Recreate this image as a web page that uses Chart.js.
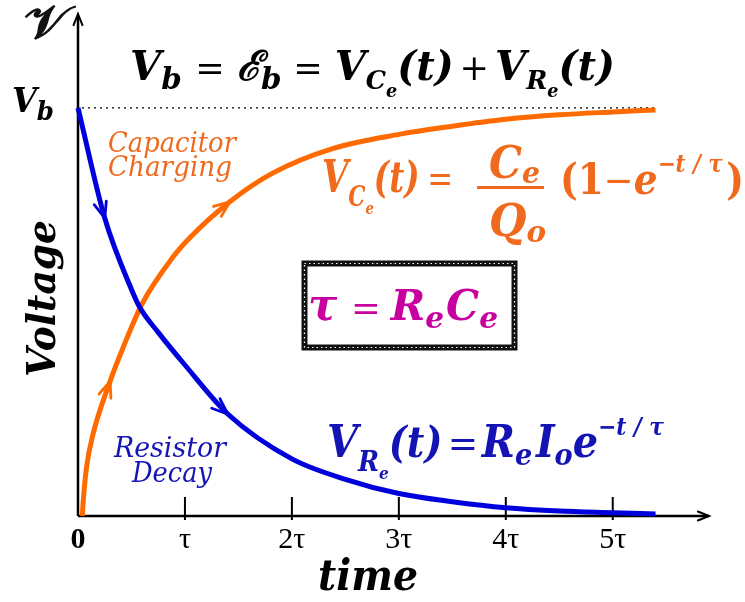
<!DOCTYPE html>
<html>
<head>
<meta charset="utf-8">
<script src="https://cdn.jsdelivr.net/npm/chart.js@4/dist/chart.umd.min.js"></script>
<style>
  html, body { margin: 0; padding: 0; background: #fff; }
  #wrap { width: 745px; height: 602px; }
</style>
</head>
<body>
<div id="wrap"><canvas id="c" width="745" height="602"></canvas></div>
<script>
// Capacitor charging: time in units of tau, voltage as a fraction of Vb
const chargeTime = [0.04, 0.05, 0.08, 0.14, 0.30, 0.41, 0.60, 0.89, 1.05, 1.42, 1.82, 2.38, 3.0, 3.5, 4.0, 4.5, 5.0, 5.4];
const chargeVolt = [0, 0.04, 0.12, 0.20, 0.33, 0.405, 0.52, 0.635, 0.683, 0.77, 0.84, 0.90, 0.935, 0.955, 0.972, 0.983, 0.99, 0.995];
// Resistor decay
const decayTime = [0, 0.25, 0.5, 0.58, 0.75, 1.0, 1.4, 2.0, 2.5, 3.0, 3.5, 4.0, 4.5, 5.0, 5.4];
const decayVolt = [1.0, 0.73, 0.555, 0.51, 0.45, 0.37, 0.25, 0.14, 0.09, 0.055, 0.035, 0.02, 0.012, 0.008, 0.005];
// Time axis ticks
const tickValues = [0, 1, 2, 3, 4, 5];
const tickLabels = ['0', 'τ', '2τ', '3τ', '4τ', '5τ'];
// Supply level
const supplyLevel = 1.0;

const BLUE = '#0000dc';
const BLUE_TXT = '#1414b4';
const ORANGE = '#ff6a00';
const ORANGE_TXT = '#f06a1e';
const MAGENTA = '#c800a0';
const SERIF = '"DejaVu Serif", "Liberation Serif", serif';

function fnt(style, size) {
  const map = { bi: 'italic bold', i: 'italic', b: 'bold', r: 'normal' };
  return `${map[style || 'bi']} ${size}px ${SERIF}`;
}

// Draws a row of text pieces (with sub/superscripts); squeezed to span x0..x1 if x1 given
function rich(ctx, parts, x0, x1, base, color) {
  let w = 0;
  parts.forEach(p => {
    if (p.g != null) { w += p.g; return; }
    ctx.font = fnt(p.f, p.s);
    p.w = ctx.measureText(p.t).width;
    w += p.w;
  });
  const k = x1 != null ? (x1 - x0) / w : 1;
  ctx.save();
  ctx.translate(x0, base);
  ctx.scale(k, 1);
  ctx.fillStyle = color;
  ctx.textAlign = 'left';
  ctx.textBaseline = 'alphabetic';
  let x = 0;
  parts.forEach(p => {
    if (p.g != null) { x += p.g; return; }
    ctx.font = fnt(p.f, p.s);
    ctx.fillText(p.t, x, p.dy || 0);
    x += p.w;
  });
  ctx.restore();
}

function arrowHead(ctx, x, y, ang, len, color, width) {
  ctx.save();
  ctx.strokeStyle = color;
  ctx.lineWidth = width;
  ctx.lineCap = 'round';
  ctx.beginPath();
  ctx.moveTo(x - len * Math.cos(ang - 0.38), y - len * Math.sin(ang - 0.38));
  ctx.lineTo(x, y);
  ctx.lineTo(x - len * Math.cos(ang + 0.38), y - len * Math.sin(ang + 0.38));
  ctx.stroke();
  ctx.restore();
}

// Arrow marks placed on the curves, at a data index
function curveArrow(chart, dsIndex, idx, color) {
  const xs = chart.scales.x, ys = chart.scales.y;
  const d = chart.data.datasets[dsIndex].data;
  const px = xs.getPixelForValue(d[idx].x), py = ys.getPixelForValue(d[idx].y);
  const ax = xs.getPixelForValue(d[idx - 1].x), ay = ys.getPixelForValue(d[idx - 1].y);
  const bx = xs.getPixelForValue(d[idx + 1].x), by = ys.getPixelForValue(d[idx + 1].y);
  const ang = Math.atan2(by - ay, bx - ax);
  arrowHead(chart.ctx, px, py, ang, 17, color, 2.8);
}

const decor = {
  id: 'decor',
  beforeDatasetsDraw(chart) {
    const { ctx, chartArea: a, scales: { x, y } } = chart;
    const x0 = x.getPixelForValue(0), y0 = y.getPixelForValue(0);
    ctx.save();
    ctx.strokeStyle = '#000';
    ctx.lineWidth = 2.5;
    // axes
    ctx.beginPath();
    ctx.moveTo(x0, y0); ctx.lineTo(x0, a.top + 2);
    ctx.moveTo(x0, y0); ctx.lineTo(a.right, y0);
    ctx.stroke();
    arrowHead(ctx, x0, a.top, -Math.PI / 2, 12, '#000', 2);
    arrowHead(ctx, a.right, y0, 0, 12, '#000', 2);
    // tick marks
    ctx.lineWidth = 2;
    tickValues.slice(1).forEach(v => {
      const px = x.getPixelForValue(v);
      ctx.beginPath(); ctx.moveTo(px, y0 - 19); ctx.lineTo(px, y0 + 4); ctx.stroke();
    });
    // supply level
    const ys = y.getPixelForValue(supplyLevel);
    ctx.lineWidth = 1.3;
    ctx.setLineDash([2, 4]);
    ctx.beginPath(); ctx.moveTo(x0 + 4, ys); ctx.lineTo(x.getPixelForValue(5.4), ys); ctx.stroke();
    ctx.restore();
  },
  afterDatasetsDraw(chart) {
    const ctx = chart.ctx;
    curveArrow(chart, 0, 1, BLUE);
    curveArrow(chart, 0, 6, BLUE);
    curveArrow(chart, 1, 4, ORANGE);
    curveArrow(chart, 1, 9, ORANGE);

    // axis names and corner symbols
    rich(ctx, [{ t: '𝒱', s: 46, f: 'b' }], 24, 68, 38, '#111');
    rich(ctx, [{ t: 'V', s: 34 }, { t: 'b', s: 26, dy: 8 }], 12, 54, 112, '#000');
    rich(ctx, [{ t: 'time', s: 42 }], 318, 418, 590, '#000');
    ctx.save();
    ctx.translate(55, 377);
    ctx.rotate(-Math.PI / 2);
    rich(ctx, [{ t: 'Voltage', s: 40 }], 0, 157, 0, '#000');
    ctx.restore();

    // top relation
    rich(ctx, [
      { t: 'V', s: 41 }, { t: 'b', s: 30, dy: 9 }, { g: 14 }, { t: '=', s: 36, f: 'r' }, { g: 12 },
      { t: 'ℰ', s: 41 }, { t: 'b', s: 30, dy: 9 }, { g: 12 }, { t: '=', s: 36, f: 'r' }, { g: 12 },
      { t: 'V', s: 41 }, { t: 'C', s: 26, dy: 9 }, { t: 'e', s: 18, dy: 17 }, { t: '(t)', s: 41 }, { g: 6 },
      { t: '+', s: 36, f: 'r' }, { g: 6 },
      { t: 'V', s: 41 }, { t: 'R', s: 26, dy: 9 }, { t: 'e', s: 18, dy: 17 }, { t: '(t)', s: 41 }
    ], 130, 615, 80, '#000');

    // curve captions
    rich(ctx, [{ t: 'Capacitor', s: 27, f: 'i' }], 108, 236, 152, ORANGE_TXT);
    rich(ctx, [{ t: 'Charging', s: 27, f: 'i' }], 108, 232, 176, ORANGE_TXT);
    rich(ctx, [{ t: 'Resistor', s: 27, f: 'i' }], 114, 226, 457, BLUE_TXT);
    rich(ctx, [{ t: 'Decay', s: 27, f: 'i' }], 132, 212, 482, BLUE_TXT);

    // capacitor voltage
    rich(ctx, [
      { t: 'V', s: 44 }, { t: 'C', s: 28, dy: 14 }, { t: 'e', s: 17, dy: 22 }, { t: '(t)', s: 42 }, { g: 10 },
      { t: '=', s: 40, f: 'r' }
    ], 322, 453, 192, ORANGE_TXT);
    rich(ctx, [{ t: 'C', s: 44 }, { t: 'e', s: 30, dy: 5 }], 489, 540, 178, ORANGE_TXT);
    ctx.save();
    ctx.fillStyle = ORANGE_TXT;
    ctx.fillRect(477, 186, 67, 3);
    ctx.restore();
    rich(ctx, [{ t: 'Q', s: 44 }, { t: 'o', s: 30, dy: 6 }], 489, 546, 236, ORANGE_TXT);
    rich(ctx, [
      { t: '(1', s: 42, f: 'b' }, { t: '−', s: 40, f: 'r' }, { t: 'e', s: 42 },
      { t: '−t / τ', s: 24, dy: -22 }, { g: 4 }, { t: ')', s: 42, f: 'b' }
    ], 560, 744, 194, ORANGE_TXT);

    // time-constant box
    ctx.save();
    ctx.strokeStyle = '#111';
    ctx.lineWidth = 6;
    ctx.strokeRect(304.5, 263.5, 210, 84);
    ctx.strokeStyle = '#fff';
    ctx.lineWidth = 1.2;
    ctx.setLineDash([1.5, 3]);
    ctx.strokeRect(304.5, 263.5, 210, 84);
    ctx.restore();
    rich(ctx, [
      { t: 'τ', s: 44 }, { g: 14 }, { t: '=', s: 36, f: 'r' }, { g: 10 },
      { t: 'R', s: 42 }, { t: 'e', s: 30, dy: 8 }, { g: 2 }, { t: 'C', s: 42 }, { t: 'e', s: 30, dy: 8 }
    ], 308, 498, 320, MAGENTA);

    // resistor voltage
    rich(ctx, [
      { t: 'V', s: 44 }, { t: 'R', s: 28, dy: 14 }, { t: 'e', s: 17, dy: 22 }, { t: '(t)', s: 42 }, { g: 6 },
      { t: '=', s: 40, f: 'r' }, { g: 4 },
      { t: 'R', s: 44 }, { t: 'e', s: 30, dy: 8 }, { g: 4 }, { t: 'I', s: 44 }, { t: 'o', s: 30, dy: 8 },
      { t: 'e', s: 44 }, { t: '−t / τ', s: 24, dy: -22 }
    ], 327, 664, 457, BLUE_TXT);
  }
};

new Chart(document.getElementById('c'), {
  type: 'line',
  data: {
    datasets: [
      {
        label: 'Resistor Decay',
        data: decayTime.map((t, i) => ({ x: t, y: decayVolt[i] })),
        borderColor: BLUE, borderWidth: 5, pointRadius: 0,
        cubicInterpolationMode: 'monotone', clip: false
      },
      {
        label: 'Capacitor Charging',
        data: chargeTime.map((t, i) => ({ x: t, y: chargeVolt[i] })),
        borderColor: ORANGE, borderWidth: 5, pointRadius: 0,
        cubicInterpolationMode: 'monotone', clip: false
      }
    ]
  },
  options: {
    responsive: false,
    animation: false,
    events: [],
    layout: { padding: { left: 78, right: 36, top: 14, bottom: 38 } },
    plugins: { legend: { display: false }, tooltip: { enabled: false } },
    scales: {
      x: {
        type: 'linear', min: 0, max: 5.9,
        grid: { display: false, drawTicks: false }, border: { display: false },
        afterBuildTicks: s => { s.ticks = tickValues.map(v => ({ value: v })); },
        ticks: {
          autoSkip: false, maxRotation: 0, padding: 6, color: '#000',
          font: c => ({ family: '"Liberation Serif", serif', size: 30, weight: (c.tick && c.tick.value === 0) ? 'bold' : 'normal' }),
          callback: v => tickLabels[tickValues.indexOf(v)]
        }
      },
      y: { display: false, min: 0, max: 1.23 }
    }
  },
  plugins: [decor]
});
</script>
</body>
</html>
